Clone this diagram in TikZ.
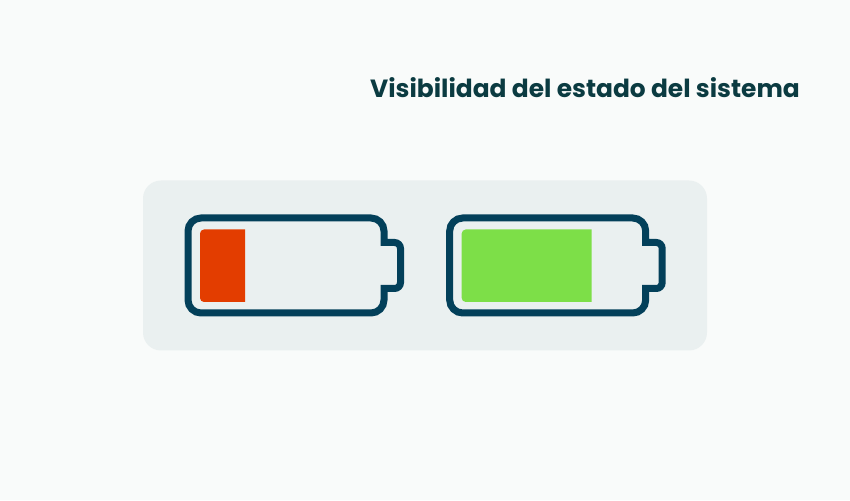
\documentclass[tikz,border=0pt]{standalone}
\usepackage{fontspec}
\setmainfont{Poppins}
\definecolor{pagebg}{HTML}{F9FBFA}
\definecolor{panelbg}{HTML}{EAF0F0}
\definecolor{outline}{HTML}{03405A}
\definecolor{titlecol}{HTML}{0B3B41}
\definecolor{lowred}{HTML}{E33D00}
\definecolor{highgreen}{HTML}{7DDF48}
\tikzset{
  battery/.style={draw=outline,line width=7pt,line join=miter,fill=none},
  titletext/.style={text=titlecol,font=\fontsize{24.9pt}{28pt}\selectfont\bfseries,anchor=base east,inner sep=0pt}
}
\newcommand{\batteryshape}[1]{%
  \draw[battery,xshift=#1pt]
    (201,218) -- (371,218) arc[start angle=-90,end angle=0,radius=13] -- (384,242.5)
    -- (394.5,242.5) arc[start angle=-90,end angle=0,radius=6] -- (400.5,282.5)
    arc[start angle=0,end angle=90,radius=6] -- (384,288.5) -- (384,300)
    arc[start angle=0,end angle=90,radius=13] -- (201,313)
    arc[start angle=90,end angle=180,radius=13] -- (188,231)
    arc[start angle=180,end angle=270,radius=13] -- cycle;}
\begin{document}
\begin{tikzpicture}[x=1pt,y=1pt]
\useasboundingbox (0,0) rectangle (850,500);
\fill[pagebg] (0,0) rectangle (850,500);
\begin{scope}[yscale=-1,yshift=-500pt]
\fill[panelbg,rounded corners=18pt] (143,180.5) rectangle (707,350.5);
\fill[lowred] (245,229.5) -- (204,229.5) arc[start angle=-90,end angle=-180,radius=4] -- (200,298) arc[start angle=180,end angle=90,radius=4] -- (245,302) -- cycle;
\fill[highgreen] (591.7,229.5) -- (465.7,229.5) arc[start angle=-90,end angle=-180,radius=4] -- (461.7,298) arc[start angle=180,end angle=90,radius=4] -- (591.7,302) -- cycle;
\batteryshape{0}
\batteryshape{261.7}
\end{scope}
\node[titletext] (title) at (800,402) {Visibilidad del estado del sistema};
\end{tikzpicture}
\end{document}
